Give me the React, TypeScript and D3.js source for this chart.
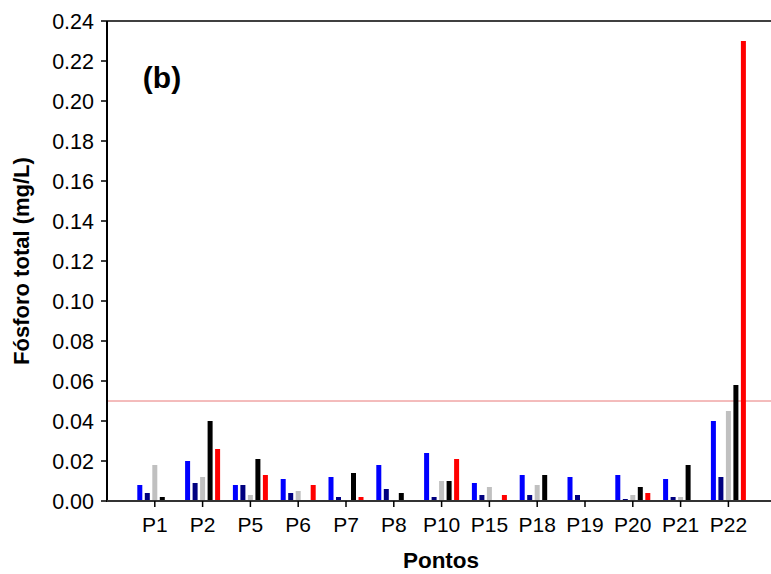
import React from "react";
import * as d3 from "d3";

const categories = ["P1", "P2", "P5", "P6", "P7", "P8", "P10", "P15", "P18", "P19", "P20", "P21", "P22"];
const seriesNames = ["s1", "s2", "s3", "s4", "s5"];
const seriesColors = ["#0000ff", "#000080", "#c0c0c0", "#000000", "#ff0000"];
const s1 = [0.008, 0.020, 0.008, 0.011, 0.012, 0.018, 0.024, 0.009, 0.013, 0.012, 0.013, 0.011, 0.040];
const s2 = [0.004, 0.009, 0.008, 0.004, 0.002, 0.006, 0.002, 0.003, 0.003, 0.003, 0.001, 0.002, 0.012];
const s3 = [0.018, 0.012, 0.003, 0.005, 0, 0, 0.010, 0.007, 0.008, 0, 0.003, 0.002, 0.045];
const s4 = [0.002, 0.040, 0.021, 0, 0.014, 0.004, 0.010, 0, 0.013, 0, 0.007, 0.018, 0.058];
const s5 = [0, 0.026, 0.013, 0.008, 0.002, 0, 0.021, 0.003, 0, 0, 0.004, 0, 0.230];
const seriesValues = [s1, s2, s3, s4, s5];
const yTicks = [0, 0.02, 0.04, 0.06, 0.08, 0.1, 0.12, 0.14, 0.16, 0.18, 0.2, 0.22, 0.24];
const refLine = 0.05;
const xTitle = "Pontos";
const yTitle = "Fósforo total (mg/L)";
const panelLabel = "(b)";

const W = 771;
const H = 574;
const left = 107;
const top = 21;
const bottom = 501;
const FONT = "'Liberation Sans', Arial, Helvetica, sans-serif";

export default function App() {
  const x = d3.scaleLinear().domain([0, categories.length + 1]).range([left, left + 47.8 * (categories.length + 1)]);
  const y = d3.scaleLinear().domain([0, 0.24]).range([bottom, top]);
  const inner = d3.scaleBand<string>().domain(seriesNames).range([-17.5, 17.5]).paddingInner(1 / 3);

  return (
    <svg width={W} height={H} style={{ position: "absolute", left: 0, top: 0, background: "#fff" }} fontFamily={FONT}>
      <rect x={0} y={0} width={W} height={H} fill="#fff" />
      {/* reference line */}
      <line x1={left} x2={W} y1={y(refLine)} y2={y(refLine)} stroke="#e87878" strokeWidth={1} />
      {/* bars */}
      {seriesValues.map((vals, si) =>
        vals.map((v, ci) =>
          v > 0 ? (
            <rect
              key={`${si}-${ci}`}
              x={x(ci + 1) + (inner(seriesNames[si]) as number)}
              y={y(v)}
              width={inner.bandwidth()}
              height={y(0) - y(v)}
              fill={seriesColors[si]}
            />
          ) : null
        )
      )}
      {/* top frame */}
      <line x1={left} x2={W} y1={top} y2={top} stroke="#000" strokeWidth={1.5} />
      {/* y axis */}
      <line x1={left} x2={left} y1={top} y2={bottom + 1} stroke="#000" strokeWidth={2} />
      {yTicks.map((t) => (
        <g key={t}>
          <line x1={left - 6} x2={left} y1={y(t)} y2={y(t)} stroke="#000" strokeWidth={1.5} />
          <text x={94} y={y(t)} dy="0.36em" textAnchor="end" fontSize={21.5} fill="#000">
            {d3.format(".2f")(t)}
          </text>
        </g>
      ))}
      {/* x axis */}
      <line x1={left} x2={W} y1={bottom} y2={bottom} stroke="#333" strokeWidth={2} />
      {categories.map((c, i) => (
        <g key={c}>
          <line x1={x(i + 1)} x2={x(i + 1)} y1={bottom} y2={bottom + 6} stroke="#000" strokeWidth={1.5} />
          <text x={x(i + 1)} y={532} textAnchor="middle" fontSize={21} fill="#000">
            {c}
          </text>
        </g>
      ))}
      <text x={441} y={568} textAnchor="middle" fontSize={22.5} fontWeight="bold" fill="#000">
        {xTitle}
      </text>
      <text
        transform={`translate(29, ${(top + bottom) / 2}) rotate(-90)`}
        textAnchor="middle"
        fontSize={22}
        fontWeight="bold"
        fill="#000"
      >
        {yTitle}
      </text>
      <text x={162} y={88} textAnchor="middle" fontSize={30} fontWeight="bold" fill="#000">
        {panelLabel}
      </text>
    </svg>
  );
}
